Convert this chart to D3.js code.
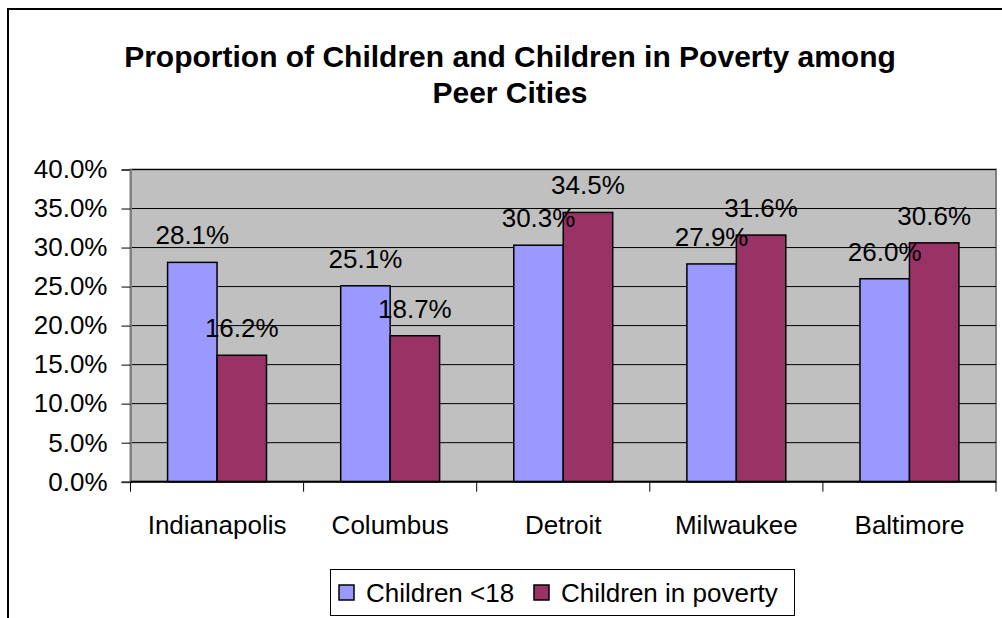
<!DOCTYPE html>
<html>
<head>
<meta charset="utf-8">
<script src="https://cdn.jsdelivr.net/npm/d3@7"></script>
<style>
  html, body { margin: 0; padding: 0; background: #fff; }
  svg { display: block; font-family: "Liberation Sans", Arial, sans-serif; }
</style>
</head>
<body>
<svg id="chart" width="1002" height="618"></svg>
<script>
const titleLines = ["Proportion of Children and Children in Poverty among", "Peer Cities"];
const categories = ["Indianapolis", "Columbus", "Detroit", "Milwaukee", "Baltimore"];
const seriesNames = ["Children <18", "Children in poverty"];
const childrenUnder18 = [28.1, 25.1, 30.3, 27.9, 26.0];
const childrenInPoverty = [16.2, 18.7, 34.5, 31.6, 30.6];
const yTicks = [0, 5, 10, 15, 20, 25, 30, 35, 40];
const colors = ["#9999FF", "#993366"];

(function () {
const seriesValues = [childrenUnder18, childrenInPoverty];
const svg = d3.select("#chart");

// outer chart border (extends beyond right/bottom edges)
svg.append("rect").attr("x", 8).attr("y", 9).attr("width", 1010).attr("height", 640)
  .attr("fill", "#fff").attr("stroke", "#000").attr("stroke-width", 2);

// title
svg.append("text").attr("x", 510).attr("text-anchor", "middle")
  .attr("font-weight", "bold").attr("font-size", 30)
  .selectAll("tspan").data(titleLines).join("tspan")
  .attr("x", 510).attr("y", (d, i) => 67 + i * 36).text(d => d);

const pL = 130.5, pR = 996, pT = 169.5, pB = 481.7;
const x = d3.scaleBand().domain(categories).range([pL, pR]).paddingInner(0).paddingOuter(0);
const y = d3.scaleLinear().domain([0, 40]).range([pB, pT]);

// plot area
svg.append("rect").attr("x", pL).attr("y", pT).attr("width", pR - pL).attr("height", pB - pT)
  .attr("fill", "#C0C0C0").attr("stroke", "#808080").attr("stroke-width", 2);

// gridlines
svg.append("g").selectAll("line").data(yTicks.slice(1)).join("line")
  .attr("x1", pL).attr("x2", pR).attr("y1", d => y(d)).attr("y2", d => y(d))
  .attr("stroke", "#000").attr("stroke-width", 1);

// bars
const bw = x.bandwidth() / 3.5;
const groups = svg.append("g").selectAll("g").data(categories).join("g")
  .attr("transform", c => `translate(${x(c) + (x.bandwidth() - 2 * bw) / 2},0)`);
seriesValues.forEach((vals, si) => {
  groups.append("rect")
    .attr("x", si * bw).attr("y", (c, i) => y(vals[i]))
    .attr("width", bw).attr("height", (c, i) => y(0) - y(vals[i]))
    .attr("fill", colors[si]).attr("stroke", "#000").attr("stroke-width", 1.5);
});
// data labels
seriesValues.forEach((vals, si) => {
  groups.append("text")
    .attr("x", si * bw + bw / 2).attr("y", (c, i) => y(vals[i]) - 18)
    .attr("text-anchor", "middle").attr("font-size", 26).attr("fill", "#000")
    .text((c, i) => vals[i].toFixed(1) + "%");
});

// y axis
const yAxis = d3.axisLeft(y).tickValues(yTicks).tickSize(9).tickPadding(14)
  .tickFormat(d => d.toFixed(1) + "%");
const ya = svg.append("g").attr("transform", `translate(${pL},0)`).call(yAxis);
ya.select(".domain").attr("stroke", "#808080").attr("stroke-width", 2);
ya.selectAll(".tick line").attr("stroke", "#000");
ya.selectAll(".tick text").attr("font-size", 26).attr("fill", "#000")
  .attr("font-family", "'Liberation Sans', Arial, sans-serif");

// x axis
const xa = svg.append("g").attr("transform", `translate(0,${pB})`)
  .call(d3.axisBottom(x).tickSize(0).tickPadding(34));
xa.select(".domain").remove();
xa.selectAll(".tick text").attr("font-size", 26).attr("fill", "#000")
  .attr("font-family", "'Liberation Sans', Arial, sans-serif");
svg.append("line").attr("x1", pL).attr("x2", pR).attr("y1", pB).attr("y2", pB)
  .attr("stroke", "#000").attr("stroke-width", 2);
const boundaries = categories.map(c => x(c)).concat([pR]);
svg.append("g").selectAll("line").data(boundaries).join("line")
  .attr("x1", d => d).attr("x2", d => d).attr("y1", pB).attr("y2", pB + 10)
  .attr("stroke", "#000").attr("stroke-width", 1);

// legend
const lg = svg.append("g");
lg.append("rect").attr("x", 330.5).attr("y", 569.5).attr("width", 464).attr("height", 46)
  .attr("fill", "#fff").attr("stroke", "#000").attr("stroke-width", 1);
const legendX = [339, 534];
seriesNames.forEach((name, i) => {
  lg.append("rect").attr("x", legendX[i]).attr("y", 585).attr("width", 15).attr("height", 15)
    .attr("fill", colors[i]).attr("stroke", "#000").attr("stroke-width", 1.5);
  lg.append("text").attr("x", legendX[i] + 27).attr("y", 602).attr("font-size", 26)
    .attr("fill", "#000").text(name);
});
})();
</script>
</body>
</html>
